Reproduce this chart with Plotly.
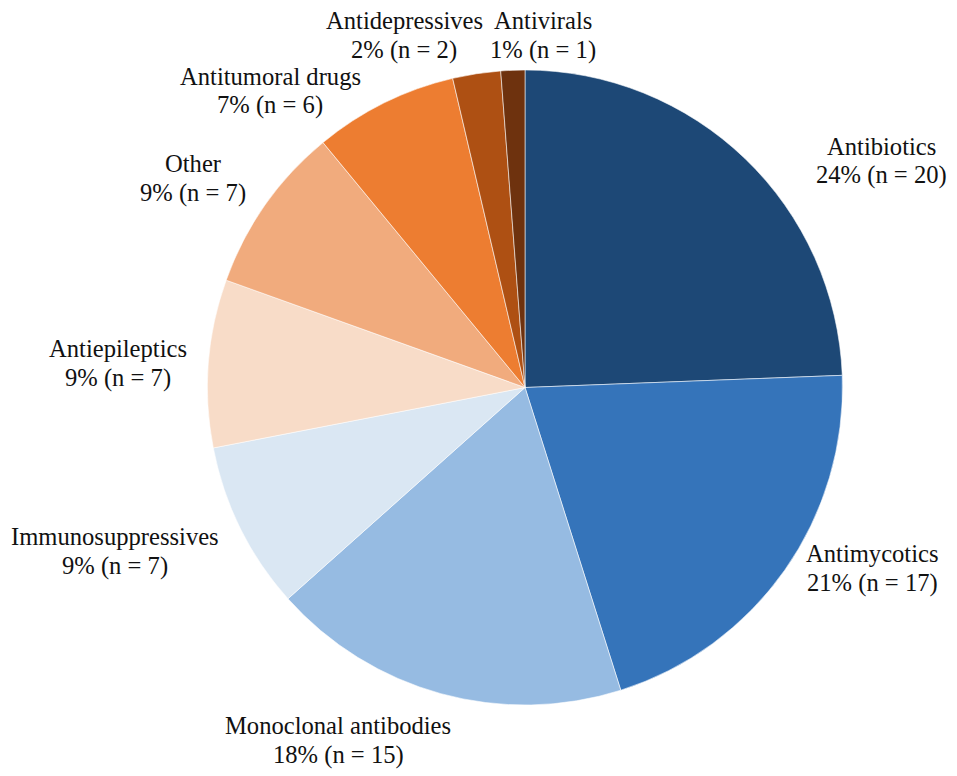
import plotly.graph_objects as go

# drug classes, clockwise from 12 o'clock
classes = ["Antibiotics", "Antimycotics", "Monoclonal antibodies", "Immunosuppressives",
           "Antiepileptics", "Other", "Antitumoral drugs", "Antidepressives", "Antivirals"]
counts = [20, 17, 15, 7, 7, 7, 6, 2, 1]

colors = ["#1d4876", "#3574ba", "#96bbe2", "#dae7f3", "#f8dcc8",
          "#f1ab7d", "#ed7d31", "#ae5013", "#6e320e"]

# label centres in pixels (placed by hand like the original)
label_px = [(881, 161), (872, 568), (338, 740), (115, 551),
            (118, 363), (193, 178), (270, 91), (404, 35), (543, 35)]

total = sum(counts)
W, H = 957, 776
GAP = 14.5  # half the distance between the two lines of a label
FONT = dict(family="Liberation Serif", size=24.6, color="#111111")

fig = go.Figure(go.Pie(
    labels=classes,
    values=counts,
    sort=False,
    direction="clockwise",
    rotation=0,
    textinfo="none",
    hoverinfo="label+value+percent",
    marker=dict(colors=colors, line=dict(color="rgba(255,255,255,0.7)", width=0.8)),
    domain=dict(x=[207 / W, 843 / W], y=[1 - 705 / H, 1 - 70 / H]),
    showlegend=False,
))

for name, n, (px_, py_) in zip(classes, counts, label_px):
    lines = [name, f"{round(n / total * 100)}% (n = {n})"]
    for k, line in enumerate(lines):
        fig.add_annotation(
            x=px_ / W, y=1 - (py_ + (2 * k - 1) * GAP) / H,
            xref="paper", yref="paper",
            xanchor="center", yanchor="middle",
            text=line, showarrow=False, font=FONT,
        )

fig.update_layout(
    width=W, height=H,
    margin=dict(l=0, r=0, t=0, b=0),
    paper_bgcolor="white",
    plot_bgcolor="white",
)

fig.write_html("out.html", config={"displayModeBar": False},
               post_script="document.body.style.margin='0px';")
